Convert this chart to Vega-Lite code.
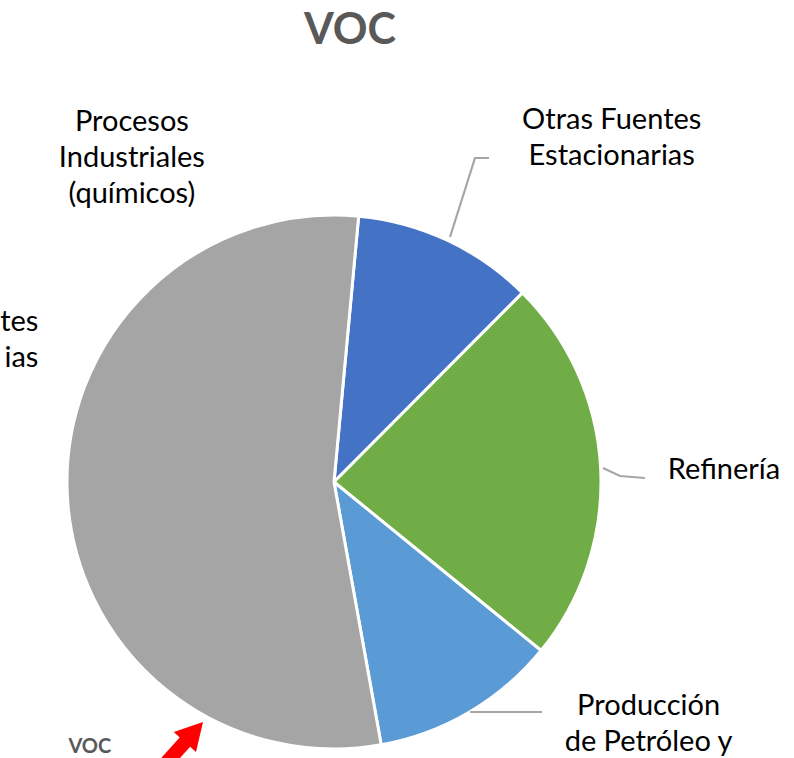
{
  "$schema": "https://vega.github.io/schema/vega-lite/v6.json",
  "autosize": {"type": "none"},
  "width": 534,
  "height": 534,
  "padding": {"left": 67, "top": 215, "right": 193, "bottom": 9},
  "background": "#ffffff",
  "config": {"view": {"stroke": null}, "text": {"font": "Lato"}},
  "layer": [
    {
      "data": {"values": [
        {"fuente": "Otras Fuentes Estacionarias", "valor": 11.0, "orden": 1},
        {"fuente": "Refinería", "valor": 23.4, "orden": 2},
        {"fuente": "Producción de Petróleo y Gas", "valor": 11.3, "orden": 3},
        {"fuente": "Procesos Industriales (químicos)", "valor": 54.3, "orden": 4}
      ]},
      "mark": {"type": "arc", "stroke": "#ffffff", "strokeWidth": 3},
      "encoding": {
        "theta": {"field": "valor", "type": "quantitative", "stack": true, "scale": {"range": [0.0925, 6.3757]}},
        "order": {"field": "orden", "type": "quantitative"},
        "color": {
          "field": "fuente", "type": "nominal", "legend": null,
          "scale": {
            "domain": ["Otras Fuentes Estacionarias", "Refinería", "Producción de Petróleo y Gas", "Procesos Industriales (químicos)"],
            "range": ["#4472C4", "#70AD47", "#5B9BD5", "#A5A5A5"]
          }
        }
      }
    },
    {
      "data": {"values": [{"nota": "líneas guía"}]},
      "mark": {"type": "point", "shape": "M1.16,-2.45L1.41,-3.24L1.55,-3.24M2.69,-0.14L2.86,-0.06L3.11,-0.04M1.36,2.3L2.08,2.3", "size": 40000, "filled": false, "color": "#A6A6A6", "strokeWidth": 2.2, "opacity": 1},
      "encoding": {}
    },
    {
      "data": {"values": [{"nota": "flecha"}]},
      "mark": {"type": "point", "shape": "M-1.31,2.4L-1.38,2.701L-1.439,2.648L-1.84,3.094L-1.944,3L-1.543,2.554L-1.602,2.501Z", "size": 40000, "filled": true, "color": "#FF0000", "strokeWidth": 0, "opacity": 1},
      "encoding": {}
    },
    {
      "data": {"values": [{"texto": "VOC"}]},
      "mark": {"type": "text", "fontSize": 43, "fontWeight": "bold", "color": "#595959", "align": "center", "baseline": "middle"},
      "encoding": {"text": {"field": "texto"}, "theta": {"value": 0.0353}, "radius": {"value": 451}}
    },
    {
      "data": {"values": [{"texto": ["Procesos", "Industriales", "(químicos)"]}]},
      "mark": {"type": "text", "fontSize": 29, "lineHeight": 36, "color": "#000000", "align": "center", "baseline": "middle"},
      "encoding": {"text": {"field": "texto"}, "theta": {"value": 5.7718}, "radius": {"value": 413}}
    },
    {
      "data": {"values": [{"texto": ["Otras Fuentes", "Estacionarias"]}]},
      "mark": {"type": "text", "fontSize": 29, "lineHeight": 36, "color": "#000000", "align": "center", "baseline": "middle"},
      "encoding": {"text": {"field": "texto"}, "theta": {"value": 0.6548}, "radius": {"value": 456}}
    },
    {
      "data": {"values": [{"texto": ["tes", "ias"]}]},
      "mark": {"type": "text", "fontSize": 29, "lineHeight": 36, "color": "#000000", "align": "right", "baseline": "middle"},
      "encoding": {"text": {"field": "texto"}, "theta": {"value": 5.2079}, "radius": {"value": 336}}
    },
    {
      "data": {"values": [{"texto": "Refinería"}]},
      "mark": {"type": "text", "fontSize": 29, "color": "#000000", "align": "left", "baseline": "middle"},
      "encoding": {"text": {"field": "texto"}, "theta": {"value": 1.5348}, "radius": {"value": 334}}
    },
    {
      "data": {"values": [{"texto": ["Producción", "de Petróleo y"]}]},
      "mark": {"type": "text", "fontSize": 29, "lineHeight": 36, "color": "#000000", "align": "center", "baseline": "middle"},
      "encoding": {"text": {"field": "texto"}, "theta": {"value": 2.1889}, "radius": {"value": 386}}
    },
    {
      "data": {"values": [{"texto": "VOC"}]},
      "mark": {"type": "text", "fontSize": 20, "fontWeight": "bold", "color": "#595959", "align": "center", "baseline": "middle"},
      "encoding": {"text": {"field": "texto"}, "theta": {"value": 3.887}, "radius": {"value": 360}}
    }
  ]
}
